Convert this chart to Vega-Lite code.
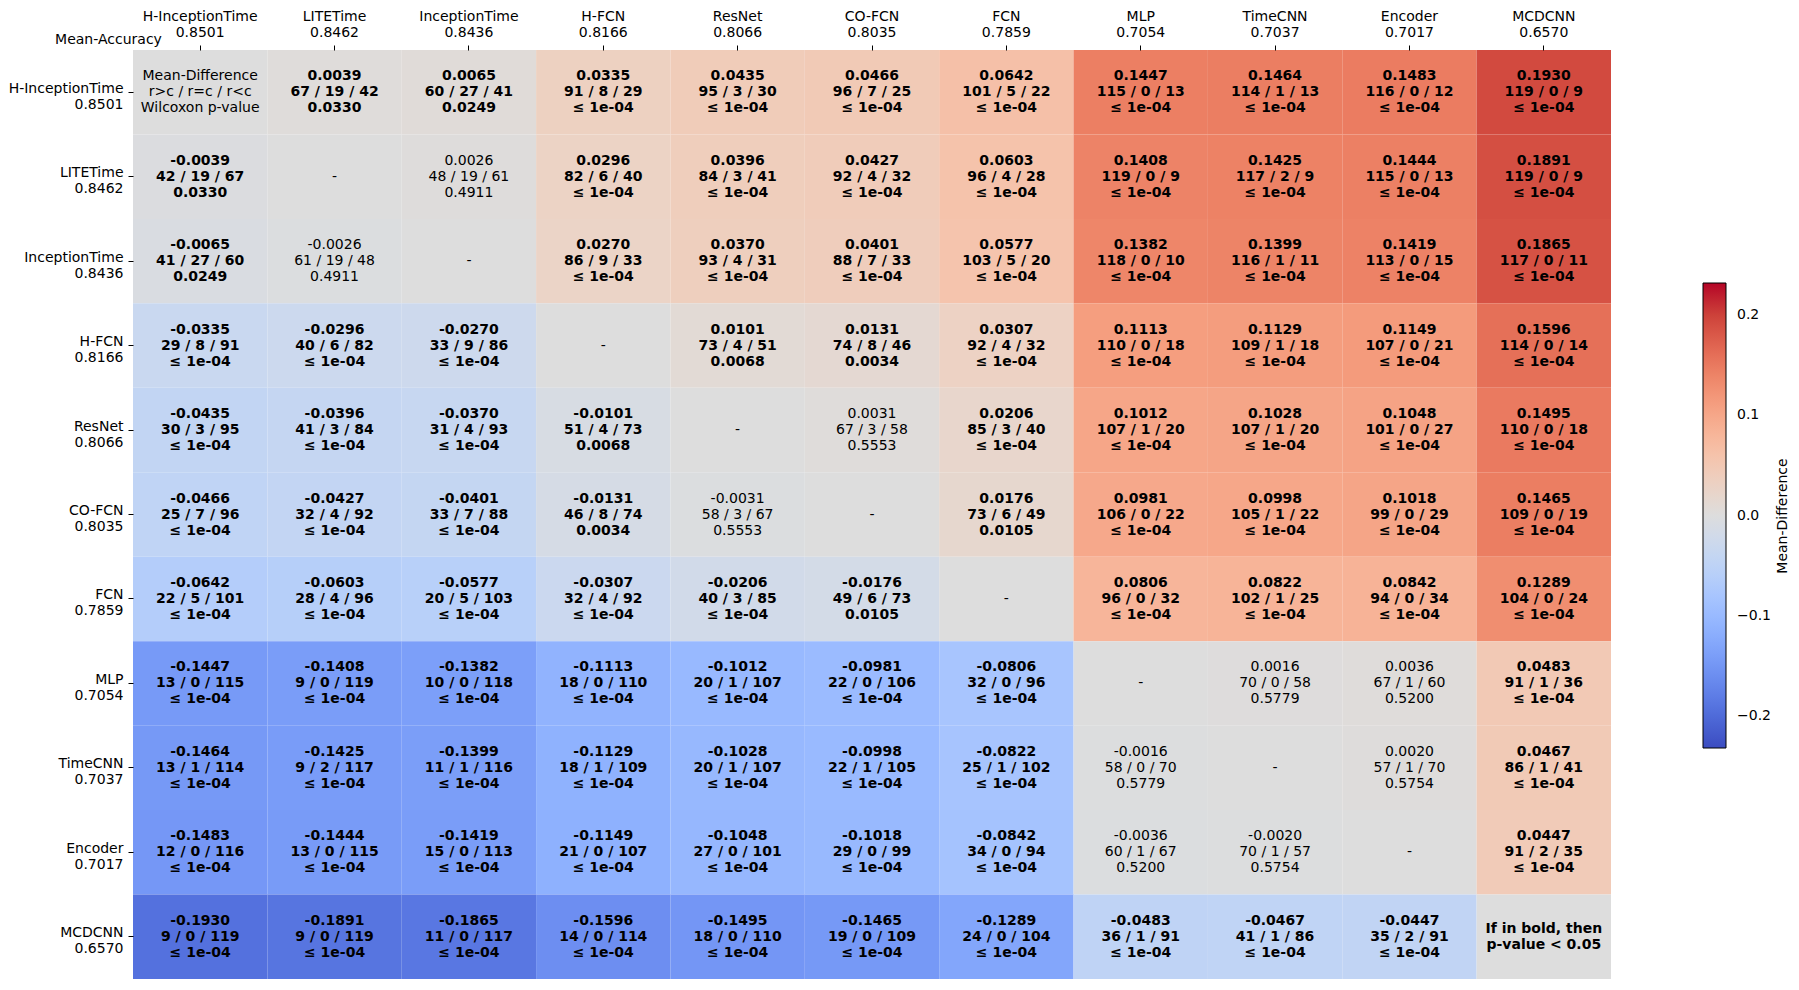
{
  "$schema": "https://vega.github.io/schema/vega-lite/v6.json",
  "width": 1478,
  "height": 929,
  "autosize": {"type": "none"},
  "padding": {"left": 133, "top": 50, "right": 188, "bottom": 11},
  "background": "white",
  "config": {
    "view": {"stroke": null},
    "font": "DejaVu Sans",
    "axis": {"labelFont": "DejaVu Sans", "labelFontSize": 14, "labelColor": "#000", "tickColor": "#000", "tickSize": 5, "tickWidth": 1, "domain": false, "grid": false, "labelLineHeight": 16}
  },
  "datasets": {
    "models": [
      {"m": "H-InceptionTime", "acc": 0.8501},
      {"m": "LITETime", "acc": 0.8462},
      {"m": "InceptionTime", "acc": 0.8436},
      {"m": "H-FCN", "acc": 0.8166},
      {"m": "ResNet", "acc": 0.8066},
      {"m": "CO-FCN", "acc": 0.8035},
      {"m": "FCN", "acc": 0.7859},
      {"m": "MLP", "acc": 0.7054},
      {"m": "TimeCNN", "acc": 0.7037},
      {"m": "Encoder", "acc": 0.7017},
      {"m": "MCDCNN", "acc": 0.6570}
    ],
    "cells": [
      {"r": "H-InceptionTime", "c": "H-InceptionTime", "d": 0, "t": "Mean-Difference\nr>c / r=c / r<c\nWilcoxon p-value", "s": false},
      {"r": "H-InceptionTime", "c": "LITETime", "d": 0.0039, "t": "0.0039\n67 / 19 / 42\n0.0330", "s": true},
      {"r": "H-InceptionTime", "c": "InceptionTime", "d": 0.0065, "t": "0.0065\n60 / 27 / 41\n0.0249", "s": true},
      {"r": "H-InceptionTime", "c": "H-FCN", "d": 0.0335, "t": "0.0335\n91 / 8 / 29\n≤ 1e-04", "s": true},
      {"r": "H-InceptionTime", "c": "ResNet", "d": 0.0435, "t": "0.0435\n95 / 3 / 30\n≤ 1e-04", "s": true},
      {"r": "H-InceptionTime", "c": "CO-FCN", "d": 0.0466, "t": "0.0466\n96 / 7 / 25\n≤ 1e-04", "s": true},
      {"r": "H-InceptionTime", "c": "FCN", "d": 0.0642, "t": "0.0642\n101 / 5 / 22\n≤ 1e-04", "s": true},
      {"r": "H-InceptionTime", "c": "MLP", "d": 0.1447, "t": "0.1447\n115 / 0 / 13\n≤ 1e-04", "s": true},
      {"r": "H-InceptionTime", "c": "TimeCNN", "d": 0.1464, "t": "0.1464\n114 / 1 / 13\n≤ 1e-04", "s": true},
      {"r": "H-InceptionTime", "c": "Encoder", "d": 0.1483, "t": "0.1483\n116 / 0 / 12\n≤ 1e-04", "s": true},
      {"r": "H-InceptionTime", "c": "MCDCNN", "d": 0.1930, "t": "0.1930\n119 / 0 / 9\n≤ 1e-04", "s": true},

      {"r": "LITETime", "c": "H-InceptionTime", "d": -0.0039, "t": "-0.0039\n42 / 19 / 67\n0.0330", "s": true},
      {"r": "LITETime", "c": "LITETime", "d": 0, "t": "-", "s": false},
      {"r": "LITETime", "c": "InceptionTime", "d": 0.0026, "t": "0.0026\n48 / 19 / 61\n0.4911", "s": false},
      {"r": "LITETime", "c": "H-FCN", "d": 0.0296, "t": "0.0296\n82 / 6 / 40\n≤ 1e-04", "s": true},
      {"r": "LITETime", "c": "ResNet", "d": 0.0396, "t": "0.0396\n84 / 3 / 41\n≤ 1e-04", "s": true},
      {"r": "LITETime", "c": "CO-FCN", "d": 0.0427, "t": "0.0427\n92 / 4 / 32\n≤ 1e-04", "s": true},
      {"r": "LITETime", "c": "FCN", "d": 0.0603, "t": "0.0603\n96 / 4 / 28\n≤ 1e-04", "s": true},
      {"r": "LITETime", "c": "MLP", "d": 0.1408, "t": "0.1408\n119 / 0 / 9\n≤ 1e-04", "s": true},
      {"r": "LITETime", "c": "TimeCNN", "d": 0.1425, "t": "0.1425\n117 / 2 / 9\n≤ 1e-04", "s": true},
      {"r": "LITETime", "c": "Encoder", "d": 0.1444, "t": "0.1444\n115 / 0 / 13\n≤ 1e-04", "s": true},
      {"r": "LITETime", "c": "MCDCNN", "d": 0.1891, "t": "0.1891\n119 / 0 / 9\n≤ 1e-04", "s": true},

      {"r": "InceptionTime", "c": "H-InceptionTime", "d": -0.0065, "t": "-0.0065\n41 / 27 / 60\n0.0249", "s": true},
      {"r": "InceptionTime", "c": "LITETime", "d": -0.0026, "t": "-0.0026\n61 / 19 / 48\n0.4911", "s": false},
      {"r": "InceptionTime", "c": "InceptionTime", "d": 0, "t": "-", "s": false},
      {"r": "InceptionTime", "c": "H-FCN", "d": 0.0270, "t": "0.0270\n86 / 9 / 33\n≤ 1e-04", "s": true},
      {"r": "InceptionTime", "c": "ResNet", "d": 0.0370, "t": "0.0370\n93 / 4 / 31\n≤ 1e-04", "s": true},
      {"r": "InceptionTime", "c": "CO-FCN", "d": 0.0401, "t": "0.0401\n88 / 7 / 33\n≤ 1e-04", "s": true},
      {"r": "InceptionTime", "c": "FCN", "d": 0.0577, "t": "0.0577\n103 / 5 / 20\n≤ 1e-04", "s": true},
      {"r": "InceptionTime", "c": "MLP", "d": 0.1382, "t": "0.1382\n118 / 0 / 10\n≤ 1e-04", "s": true},
      {"r": "InceptionTime", "c": "TimeCNN", "d": 0.1399, "t": "0.1399\n116 / 1 / 11\n≤ 1e-04", "s": true},
      {"r": "InceptionTime", "c": "Encoder", "d": 0.1419, "t": "0.1419\n113 / 0 / 15\n≤ 1e-04", "s": true},
      {"r": "InceptionTime", "c": "MCDCNN", "d": 0.1865, "t": "0.1865\n117 / 0 / 11\n≤ 1e-04", "s": true},

      {"r": "H-FCN", "c": "H-InceptionTime", "d": -0.0335, "t": "-0.0335\n29 / 8 / 91\n≤ 1e-04", "s": true},
      {"r": "H-FCN", "c": "LITETime", "d": -0.0296, "t": "-0.0296\n40 / 6 / 82\n≤ 1e-04", "s": true},
      {"r": "H-FCN", "c": "InceptionTime", "d": -0.0270, "t": "-0.0270\n33 / 9 / 86\n≤ 1e-04", "s": true},
      {"r": "H-FCN", "c": "H-FCN", "d": 0, "t": "-", "s": false},
      {"r": "H-FCN", "c": "ResNet", "d": 0.0101, "t": "0.0101\n73 / 4 / 51\n0.0068", "s": true},
      {"r": "H-FCN", "c": "CO-FCN", "d": 0.0131, "t": "0.0131\n74 / 8 / 46\n0.0034", "s": true},
      {"r": "H-FCN", "c": "FCN", "d": 0.0307, "t": "0.0307\n92 / 4 / 32\n≤ 1e-04", "s": true},
      {"r": "H-FCN", "c": "MLP", "d": 0.1113, "t": "0.1113\n110 / 0 / 18\n≤ 1e-04", "s": true},
      {"r": "H-FCN", "c": "TimeCNN", "d": 0.1129, "t": "0.1129\n109 / 1 / 18\n≤ 1e-04", "s": true},
      {"r": "H-FCN", "c": "Encoder", "d": 0.1149, "t": "0.1149\n107 / 0 / 21\n≤ 1e-04", "s": true},
      {"r": "H-FCN", "c": "MCDCNN", "d": 0.1596, "t": "0.1596\n114 / 0 / 14\n≤ 1e-04", "s": true},

      {"r": "ResNet", "c": "H-InceptionTime", "d": -0.0435, "t": "-0.0435\n30 / 3 / 95\n≤ 1e-04", "s": true},
      {"r": "ResNet", "c": "LITETime", "d": -0.0396, "t": "-0.0396\n41 / 3 / 84\n≤ 1e-04", "s": true},
      {"r": "ResNet", "c": "InceptionTime", "d": -0.0370, "t": "-0.0370\n31 / 4 / 93\n≤ 1e-04", "s": true},
      {"r": "ResNet", "c": "H-FCN", "d": -0.0101, "t": "-0.0101\n51 / 4 / 73\n0.0068", "s": true},
      {"r": "ResNet", "c": "ResNet", "d": 0, "t": "-", "s": false},
      {"r": "ResNet", "c": "CO-FCN", "d": 0.0031, "t": "0.0031\n67 / 3 / 58\n0.5553", "s": false},
      {"r": "ResNet", "c": "FCN", "d": 0.0206, "t": "0.0206\n85 / 3 / 40\n≤ 1e-04", "s": true},
      {"r": "ResNet", "c": "MLP", "d": 0.1012, "t": "0.1012\n107 / 1 / 20\n≤ 1e-04", "s": true},
      {"r": "ResNet", "c": "TimeCNN", "d": 0.1028, "t": "0.1028\n107 / 1 / 20\n≤ 1e-04", "s": true},
      {"r": "ResNet", "c": "Encoder", "d": 0.1048, "t": "0.1048\n101 / 0 / 27\n≤ 1e-04", "s": true},
      {"r": "ResNet", "c": "MCDCNN", "d": 0.1495, "t": "0.1495\n110 / 0 / 18\n≤ 1e-04", "s": true},

      {"r": "CO-FCN", "c": "H-InceptionTime", "d": -0.0466, "t": "-0.0466\n25 / 7 / 96\n≤ 1e-04", "s": true},
      {"r": "CO-FCN", "c": "LITETime", "d": -0.0427, "t": "-0.0427\n32 / 4 / 92\n≤ 1e-04", "s": true},
      {"r": "CO-FCN", "c": "InceptionTime", "d": -0.0401, "t": "-0.0401\n33 / 7 / 88\n≤ 1e-04", "s": true},
      {"r": "CO-FCN", "c": "H-FCN", "d": -0.0131, "t": "-0.0131\n46 / 8 / 74\n0.0034", "s": true},
      {"r": "CO-FCN", "c": "ResNet", "d": -0.0031, "t": "-0.0031\n58 / 3 / 67\n0.5553", "s": false},
      {"r": "CO-FCN", "c": "CO-FCN", "d": 0, "t": "-", "s": false},
      {"r": "CO-FCN", "c": "FCN", "d": 0.0176, "t": "0.0176\n73 / 6 / 49\n0.0105", "s": true},
      {"r": "CO-FCN", "c": "MLP", "d": 0.0981, "t": "0.0981\n106 / 0 / 22\n≤ 1e-04", "s": true},
      {"r": "CO-FCN", "c": "TimeCNN", "d": 0.0998, "t": "0.0998\n105 / 1 / 22\n≤ 1e-04", "s": true},
      {"r": "CO-FCN", "c": "Encoder", "d": 0.1018, "t": "0.1018\n99 / 0 / 29\n≤ 1e-04", "s": true},
      {"r": "CO-FCN", "c": "MCDCNN", "d": 0.1465, "t": "0.1465\n109 / 0 / 19\n≤ 1e-04", "s": true},

      {"r": "FCN", "c": "H-InceptionTime", "d": -0.0642, "t": "-0.0642\n22 / 5 / 101\n≤ 1e-04", "s": true},
      {"r": "FCN", "c": "LITETime", "d": -0.0603, "t": "-0.0603\n28 / 4 / 96\n≤ 1e-04", "s": true},
      {"r": "FCN", "c": "InceptionTime", "d": -0.0577, "t": "-0.0577\n20 / 5 / 103\n≤ 1e-04", "s": true},
      {"r": "FCN", "c": "H-FCN", "d": -0.0307, "t": "-0.0307\n32 / 4 / 92\n≤ 1e-04", "s": true},
      {"r": "FCN", "c": "ResNet", "d": -0.0206, "t": "-0.0206\n40 / 3 / 85\n≤ 1e-04", "s": true},
      {"r": "FCN", "c": "CO-FCN", "d": -0.0176, "t": "-0.0176\n49 / 6 / 73\n0.0105", "s": true},
      {"r": "FCN", "c": "FCN", "d": 0, "t": "-", "s": false},
      {"r": "FCN", "c": "MLP", "d": 0.0806, "t": "0.0806\n96 / 0 / 32\n≤ 1e-04", "s": true},
      {"r": "FCN", "c": "TimeCNN", "d": 0.0822, "t": "0.0822\n102 / 1 / 25\n≤ 1e-04", "s": true},
      {"r": "FCN", "c": "Encoder", "d": 0.0842, "t": "0.0842\n94 / 0 / 34\n≤ 1e-04", "s": true},
      {"r": "FCN", "c": "MCDCNN", "d": 0.1289, "t": "0.1289\n104 / 0 / 24\n≤ 1e-04", "s": true},

      {"r": "MLP", "c": "H-InceptionTime", "d": -0.1447, "t": "-0.1447\n13 / 0 / 115\n≤ 1e-04", "s": true},
      {"r": "MLP", "c": "LITETime", "d": -0.1408, "t": "-0.1408\n9 / 0 / 119\n≤ 1e-04", "s": true},
      {"r": "MLP", "c": "InceptionTime", "d": -0.1382, "t": "-0.1382\n10 / 0 / 118\n≤ 1e-04", "s": true},
      {"r": "MLP", "c": "H-FCN", "d": -0.1113, "t": "-0.1113\n18 / 0 / 110\n≤ 1e-04", "s": true},
      {"r": "MLP", "c": "ResNet", "d": -0.1012, "t": "-0.1012\n20 / 1 / 107\n≤ 1e-04", "s": true},
      {"r": "MLP", "c": "CO-FCN", "d": -0.0981, "t": "-0.0981\n22 / 0 / 106\n≤ 1e-04", "s": true},
      {"r": "MLP", "c": "FCN", "d": -0.0806, "t": "-0.0806\n32 / 0 / 96\n≤ 1e-04", "s": true},
      {"r": "MLP", "c": "MLP", "d": 0, "t": "-", "s": false},
      {"r": "MLP", "c": "TimeCNN", "d": 0.0016, "t": "0.0016\n70 / 0 / 58\n0.5779", "s": false},
      {"r": "MLP", "c": "Encoder", "d": 0.0036, "t": "0.0036\n67 / 1 / 60\n0.5200", "s": false},
      {"r": "MLP", "c": "MCDCNN", "d": 0.0483, "t": "0.0483\n91 / 1 / 36\n≤ 1e-04", "s": true},

      {"r": "TimeCNN", "c": "H-InceptionTime", "d": -0.1464, "t": "-0.1464\n13 / 1 / 114\n≤ 1e-04", "s": true},
      {"r": "TimeCNN", "c": "LITETime", "d": -0.1425, "t": "-0.1425\n9 / 2 / 117\n≤ 1e-04", "s": true},
      {"r": "TimeCNN", "c": "InceptionTime", "d": -0.1399, "t": "-0.1399\n11 / 1 / 116\n≤ 1e-04", "s": true},
      {"r": "TimeCNN", "c": "H-FCN", "d": -0.1129, "t": "-0.1129\n18 / 1 / 109\n≤ 1e-04", "s": true},
      {"r": "TimeCNN", "c": "ResNet", "d": -0.1028, "t": "-0.1028\n20 / 1 / 107\n≤ 1e-04", "s": true},
      {"r": "TimeCNN", "c": "CO-FCN", "d": -0.0998, "t": "-0.0998\n22 / 1 / 105\n≤ 1e-04", "s": true},
      {"r": "TimeCNN", "c": "FCN", "d": -0.0822, "t": "-0.0822\n25 / 1 / 102\n≤ 1e-04", "s": true},
      {"r": "TimeCNN", "c": "MLP", "d": -0.0016, "t": "-0.0016\n58 / 0 / 70\n0.5779", "s": false},
      {"r": "TimeCNN", "c": "TimeCNN", "d": 0, "t": "-", "s": false},
      {"r": "TimeCNN", "c": "Encoder", "d": 0.0020, "t": "0.0020\n57 / 1 / 70\n0.5754", "s": false},
      {"r": "TimeCNN", "c": "MCDCNN", "d": 0.0467, "t": "0.0467\n86 / 1 / 41\n≤ 1e-04", "s": true},

      {"r": "Encoder", "c": "H-InceptionTime", "d": -0.1483, "t": "-0.1483\n12 / 0 / 116\n≤ 1e-04", "s": true},
      {"r": "Encoder", "c": "LITETime", "d": -0.1444, "t": "-0.1444\n13 / 0 / 115\n≤ 1e-04", "s": true},
      {"r": "Encoder", "c": "InceptionTime", "d": -0.1419, "t": "-0.1419\n15 / 0 / 113\n≤ 1e-04", "s": true},
      {"r": "Encoder", "c": "H-FCN", "d": -0.1149, "t": "-0.1149\n21 / 0 / 107\n≤ 1e-04", "s": true},
      {"r": "Encoder", "c": "ResNet", "d": -0.1048, "t": "-0.1048\n27 / 0 / 101\n≤ 1e-04", "s": true},
      {"r": "Encoder", "c": "CO-FCN", "d": -0.1018, "t": "-0.1018\n29 / 0 / 99\n≤ 1e-04", "s": true},
      {"r": "Encoder", "c": "FCN", "d": -0.0842, "t": "-0.0842\n34 / 0 / 94\n≤ 1e-04", "s": true},
      {"r": "Encoder", "c": "MLP", "d": -0.0036, "t": "-0.0036\n60 / 1 / 67\n0.5200", "s": false},
      {"r": "Encoder", "c": "TimeCNN", "d": -0.0020, "t": "-0.0020\n70 / 1 / 57\n0.5754", "s": false},
      {"r": "Encoder", "c": "Encoder", "d": 0, "t": "-", "s": false},
      {"r": "Encoder", "c": "MCDCNN", "d": 0.0447, "t": "0.0447\n91 / 2 / 35\n≤ 1e-04", "s": true},

      {"r": "MCDCNN", "c": "H-InceptionTime", "d": -0.1930, "t": "-0.1930\n9 / 0 / 119\n≤ 1e-04", "s": true},
      {"r": "MCDCNN", "c": "LITETime", "d": -0.1891, "t": "-0.1891\n9 / 0 / 119\n≤ 1e-04", "s": true},
      {"r": "MCDCNN", "c": "InceptionTime", "d": -0.1865, "t": "-0.1865\n11 / 0 / 117\n≤ 1e-04", "s": true},
      {"r": "MCDCNN", "c": "H-FCN", "d": -0.1596, "t": "-0.1596\n14 / 0 / 114\n≤ 1e-04", "s": true},
      {"r": "MCDCNN", "c": "ResNet", "d": -0.1495, "t": "-0.1495\n18 / 0 / 110\n≤ 1e-04", "s": true},
      {"r": "MCDCNN", "c": "CO-FCN", "d": -0.1465, "t": "-0.1465\n19 / 0 / 109\n≤ 1e-04", "s": true},
      {"r": "MCDCNN", "c": "FCN", "d": -0.1289, "t": "-0.1289\n24 / 0 / 104\n≤ 1e-04", "s": true},
      {"r": "MCDCNN", "c": "MLP", "d": -0.0483, "t": "-0.0483\n36 / 1 / 91\n≤ 1e-04", "s": true},
      {"r": "MCDCNN", "c": "TimeCNN", "d": -0.0467, "t": "-0.0467\n41 / 1 / 86\n≤ 1e-04", "s": true},
      {"r": "MCDCNN", "c": "Encoder", "d": -0.0447, "t": "-0.0447\n35 / 2 / 91\n≤ 1e-04", "s": true},
      {"r": "MCDCNN", "c": "MCDCNN", "d": 0, "t": "If in bold, then\np-value < 0.05", "s": true}
    ]
  },
  "data": {"name": "cells"},
  "transform": [
    {"lookup": "r", "from": {"data": {"name": "models"}, "key": "m", "fields": ["acc"]}, "as": ["ra"]},
    {"lookup": "c", "from": {"data": {"name": "models"}, "key": "m", "fields": ["acc"]}, "as": ["ca"]},
    {"calculate": "datum.r + '\\n' + format(datum.ra, '.4f')", "as": "rl"},
    {"calculate": "datum.c + '\\n' + format(datum.ca, '.4f')", "as": "cl"},
    {"calculate": "length(split(datum.t, '\\n'))", "as": "nl"}
  ],
  "encoding": {
    "x": {
      "field": "cl", "type": "nominal",
      "sort": {"field": "ca", "op": "max", "order": "descending"},
      "axis": {
        "orient": "top", "labelAngle": 0, "labelAlign": "center", "labelBaseline": "bottom",
        "labelPadding": 22, "labelExpr": "split(datum.value, '\\n')",
        "title": "Mean-Accuracy", "titleX": -25, "titleY": -11, "titleAlign": "center", "titleBaseline": "middle",
        "titleFont": "DejaVu Sans", "titleFontSize": 14, "titleFontWeight": "normal", "titleColor": "#000"
      }
    },
    "y": {
      "field": "rl", "type": "nominal",
      "sort": {"field": "ra", "op": "max", "order": "descending"},
      "axis": {
        "orient": "left", "labelAlign": "right", "labelBaseline": "middle", "labelPadding": 5, "labelOffset": -3.5,
        "labelExpr": "split(datum.value, '\\n')", "title": null
      }
    }
  },
  "layer": [
    {
      "mark": {"type": "rect", "stroke": null},
      "encoding": {
        "color": {
          "field": "d", "type": "quantitative",
          "scale": {
            "type": "linear", "interpolate": "rgb", "clamp": true,
            "domain": [-0.2323, -0.2033, -0.1742, -0.1452, -0.1162, -0.0871, -0.0581, -0.0290, 0, 0.0290, 0.0581, 0.0871, 0.1162, 0.1452, 0.1742, 0.2033, 0.2323],
            "range": ["#3b4cc0", "#4d68d7", "#6282ea", "#779af7", "#8db0fe", "#a3c2ff", "#b8d0f9", "#ccd9ee", "#dddddd", "#ecd3c5", "#f5c4ad", "#f7b194", "#f49a7b", "#ec7f63", "#de604d", "#cb3e38", "#b40426"]
          },
          "legend": {
            "title": "Mean-Difference", "orient": "none", "legendX": 1570, "legendY": 233,
            "direction": "vertical", "gradientLength": 465, "gradientThickness": 23,
            "gradientStrokeColor": "#000", "gradientStrokeWidth": 1,
            "values": [-0.2, -0.1, 0, 0.1, 0.2], "format": ".1f",
            "labelFont": "DejaVu Sans", "labelFontSize": 14, "labelColor": "#000", "labelOffset": 11,
            "titleOrient": "right", "titleAnchor": "middle", "titleFont": "DejaVu Sans", "titleFontSize": 14,
            "titleFontWeight": "normal", "titleColor": "#000", "titlePadding": 5, "padding": 0,
            "encode": {"title": {"update": {"angle": {"value": 270}, "baseline": {"value": "top"}, "align": {"value": "center"}}}}
          }
        }
      }
    },
    {
      "transform": [{"filter": "datum.nl == 3 && datum.s"}],
      "mark": {"type": "text", "font": "DejaVu Sans", "fontSize": 14, "fontWeight": "bold", "lineHeight": 16, "lineBreak": "\n", "baseline": "middle", "align": "center", "color": "#000", "dy": -16},
      "encoding": {"text": {"field": "t", "type": "nominal"}}
    },
    {
      "transform": [{"filter": "datum.nl == 3 && !datum.s"}],
      "mark": {"type": "text", "font": "DejaVu Sans", "fontSize": 14, "fontWeight": "normal", "lineHeight": 16, "lineBreak": "\n", "baseline": "middle", "align": "center", "color": "#000", "dy": -16},
      "encoding": {"text": {"field": "t", "type": "nominal"}}
    },
    {
      "transform": [{"filter": "datum.nl == 2"}],
      "mark": {"type": "text", "font": "DejaVu Sans", "fontSize": 14, "fontWeight": "bold", "lineHeight": 16, "lineBreak": "\n", "baseline": "middle", "align": "center", "color": "#000", "dy": -8},
      "encoding": {"text": {"field": "t", "type": "nominal"}}
    },
    {
      "transform": [{"filter": "datum.nl == 1"}],
      "mark": {"type": "text", "font": "DejaVu Sans", "fontSize": 14, "fontWeight": "normal", "baseline": "middle", "align": "center", "color": "#000"},
      "encoding": {"text": {"field": "t", "type": "nominal"}}
    }
  ]
}
